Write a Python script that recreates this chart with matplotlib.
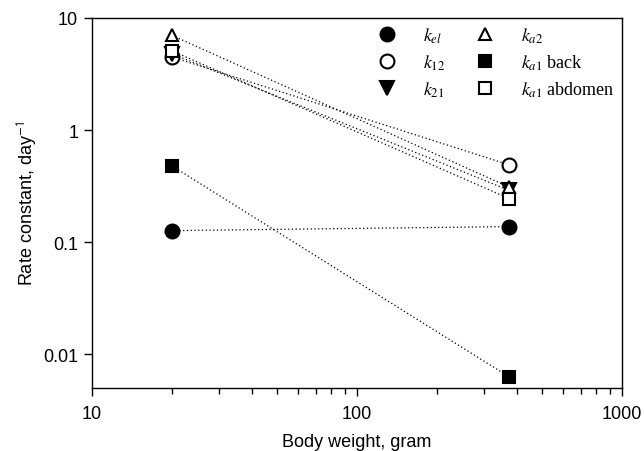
import numpy as np
import matplotlib
matplotlib.use('Agg')
import matplotlib.pyplot as plt

plt.rcParams['font.family'] = ['Liberation Sans', 'DejaVu Sans']
plt.rcParams['mathtext.fontset'] = 'stix'

# body weight (gram) for mouse and rat
weight = [20, 375]

k_el = [0.127, 0.138]
k_12 = [4.5, 0.49]
k_21 = [4.8, 0.29]
k_a2 = [7.0, 0.31]
k_a1_back = [0.48, 0.0063]
k_a1_abdomen = [5.1, 0.245]

labels = [r'$k_{\mathit{el}}$', r'$k_{\mathit{12}}$', r'$k_{\mathit{21}}$',
          r'$k_{\mathit{a2}}$', r'$k_{\mathit{a1}}$ back', r'$k_{\mathit{a1}}$ abdomen']

fig = plt.figure(figsize=(6.44, 4.52), dpi=100)
ax = fig.add_axes([0.143, 0.139, 0.823, 0.819])

series = [k_el, k_12, k_21, k_a2, k_a1_back, k_a1_abdomen]
markers = ['o', 'o', 'v', '^', 's', 's']
fills = ['black', 'white', 'black', 'white', 'black', 'white']
sizes = [10, 10, 10, 9, 9, 9]

handles = []
for vals, m, fc, ms, lab in zip(series, markers, fills, sizes, labels):
    ax.plot(weight, vals, ls=(0, (1, 2)), lw=0.9, color='black', zorder=1)
    h, = ax.plot(weight, vals, ls='none', marker=m, ms=ms, mfc=fc, mec='black',
                 mew=1.5, zorder=3, label=lab)
    handles.append(h)

ax.set_xscale('log')
ax.set_yscale('log')
ax.set_xlim(10, 1000)
ax.set_ylim(0.005, 10)
ax.set_xticks([10, 100, 1000])
ax.set_xticklabels(['10', '100', '1000'])
ax.set_yticks([0.01, 0.1, 1, 10])
ax.set_yticklabels(['0.01', '0.1', '1', '10'])
ax.yaxis.set_minor_locator(matplotlib.ticker.NullLocator())
ax.tick_params(axis='both', which='major', direction='out', length=6, width=1,
               labelsize=13)
ax.tick_params(axis='x', which='major', pad=6)
ax.tick_params(axis='y', which='major', pad=4)
ax.tick_params(axis='x', which='minor', direction='out', length=4, width=1)
for s in ax.spines.values():
    s.set_linewidth(1)

ax.set_xlabel('Body weight, gram', fontsize=13, labelpad=8)
ax.set_ylabel(r'Rate constant, day$^{\mathsf{-1}}$', fontsize=13, labelpad=3)

ax.legend(handles=handles, ncol=2, loc='upper right', frameon=False,
          prop={'family': 'Liberation Serif', 'size': 13},
          handletextpad=1.0, columnspacing=1.2, labelspacing=0.42,
          borderaxespad=0.0)

fig.savefig('out.png', dpi=100)
